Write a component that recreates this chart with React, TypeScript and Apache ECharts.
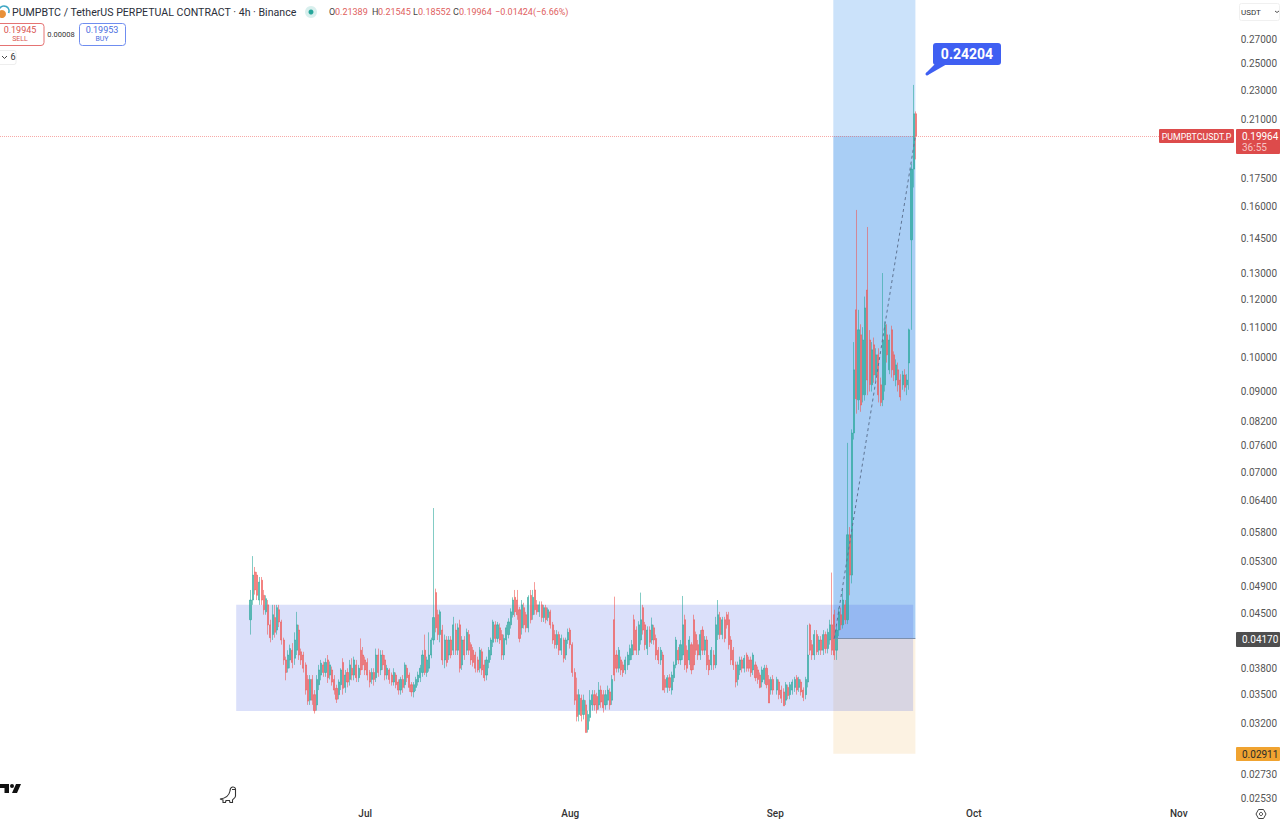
import React, { useEffect, useRef } from "react";
import * as echarts from "echarts";

// All candle rows are [open, close, low, high] in units of 0.0001 USDT, 8h apart.
const candlesJun = [
[442,470,422,485],[470,508,463,539],[513,485,478,521],[508,477,470,513],[470,497,463,505],[500,470,463,505],[477,456,449,485],[453,472,449,477],[463,435,422,470],[435,418,412,442],
[422,449,415,463],[445,425,418,463],[428,459,422,463],[456,439,432,463],[439,415,409,442],[415,390,384,418],[390,375,366,394],[380,396,375,402],[390,404,380,409],[402,387,380,411],
[392,415,384,425],[402,435,396,453],[428,396,390,435],[400,390,384,404],[396,380,375,400],[384,355,350,387],[367,343,339,372],[344,367,339,372],[367,344,339,372],[350,333,330,355],
[339,367,333,372],[361,378,355,384],[372,386,366,390],[384,375,370,388],[375,387,370,392],[390,369,363,396],[372,384,367,388],[378,364,360,382],[367,355,350,372],[357,345,341,361],
[350,364,345,367],[361,378,355,380],[387,357,350,392],[358,372,352,378],[375,364,358,380],[367,384,360,390],[380,372,366,392],[372,390,366,394],[384,369,364,390],[369,380,364,384],
[402,378,372,417],[396,384,378,406],
];
const candlesJul = [
[390,378,372,394],[387,372,366,392],[375,364,358,378],[367,375,362,380],[375,367,360,380],[369,396,364,404],[396,375,370,404],[378,396,372,402],[396,384,378,402],[390,372,366,396],
[372,380,367,384],[378,367,362,380],[372,364,360,375],[364,375,360,380],[372,361,357,375],[364,355,350,367],[355,367,350,370],[367,358,352,372],[361,384,357,387],[380,369,364,384],
[372,358,353,375],[361,353,348,364],[353,361,347,364],[358,367,354,370],[364,372,360,376],[369,380,364,384],[375,396,370,402],[402,375,372,422],[375,390,370,394],[380,396,376,425],
[396,415,392,418],[415,445,409,626],[481,431,425,487],[449,422,415,456],[422,453,412,456],[428,390,384,435],[390,415,380,422],[415,387,382,420],[396,415,390,420],[415,396,392,420],
[402,435,396,446],[428,402,396,437],[402,431,396,437],[435,380,375,442],[384,415,378,420],[415,396,390,420],[402,425,396,430],[422,402,396,428],[409,390,384,412],[402,387,382,406],
[396,380,375,400],[390,378,375,394],[380,402,375,406],[400,378,372,404],[384,369,365,390],[372,390,366,394],[387,402,380,406],[396,415,390,418],[412,439,406,442],[435,417,412,440],
[417,435,412,439],[431,415,410,437],[422,396,390,428],[396,417,390,422],[415,431,409,435],[422,439,417,444],[435,453,430,458],[449,470,445,474],[474,453,446,485],[470,449,442,485],
[456,417,412,460],[431,463,422,470],[459,435,430,466],[449,431,425,453],[431,474,425,477],[477,442,437,485],[449,474,442,485],[485,456,449,497],[463,453,449,470],[453,463,446,468],
[463,445,439,468],[445,459,439,463],[459,442,437,463],[445,456,440,459],[453,435,430,456],[435,415,410,439],[422,409,404,428],[409,422,404,428],[422,402,396,426],[402,417,396,422],
[415,392,387,418],[396,415,390,418],[415,425,410,430],
];
const candlesAug = [
[428,409,404,431],[409,375,370,412],[375,344,339,380],[350,327,322,369],[329,350,322,356],[346,328,322,350],[329,344,324,350],[339,311,311,344],[314,329,311,333],[326,344,322,355],
[339,350,333,355],[350,339,333,355],[348,334,330,352],[339,355,334,364],[355,342,336,360],[350,336,331,355],[339,350,334,355],[344,355,339,360],[353,339,334,357],[344,367,339,372],
[442,372,365,475],[396,380,375,402],[380,402,375,406],[390,378,372,394],[384,375,370,388],[378,390,373,394],[384,396,378,400],[390,404,384,409],[396,409,390,415],[442,402,396,449],
[428,402,396,433],[402,435,396,440],[415,442,409,481],[459,428,422,463],[435,409,402,439],[404,428,396,433],[428,412,406,433],[415,435,410,445],[431,415,409,435],[417,396,390,422],
[402,390,385,406],[390,402,384,406],[396,355,355,400],[367,358,352,372],[358,369,352,372],[369,358,354,373],[355,372,350,376],[369,384,364,388],[384,415,380,419],[402,390,385,406],
[390,409,384,415],[396,435,390,476],[442,384,378,449],[402,380,375,408],[390,415,384,420],[409,378,373,412],[442,384,378,449],[422,402,396,426],[409,396,390,415],[396,422,390,428],
[428,402,396,433],[402,415,396,420],[415,384,378,420],[390,378,372,396],[384,402,378,406],[396,384,378,402],[384,435,380,446],[422,449,415,470],[445,422,416,453],[422,442,416,446],
[442,417,412,446],[449,435,430,453],[442,409,403,453],[415,390,384,420],[402,384,378,406],[384,364,358,388],[367,384,360,388],[378,390,372,394],[390,380,375,394],[380,392,375,396],
[396,380,376,399],[390,380,376,394],[390,375,370,394],[378,396,372,399],[384,369,365,388],[378,367,362,382],[372,358,357,375],[364,378,358,382],[367,380,362,384],[380,361,357,384],
[367,341,341,372],[355,367,350,370],[367,355,350,372],
];
const candlesSep = [
[355,367,350,370],[364,350,345,367],[355,346,341,360],[353,338,338,357],[344,361,339,364],[358,349,345,361],[350,361,345,364],[355,364,350,367],[358,367,353,370],[369,355,350,372],
[358,367,353,370],[364,353,349,367],[355,347,343,358],[350,367,345,370],[364,396,358,435],[435,402,396,437],[409,396,390,415],[396,422,390,428],[422,400,396,428],[402,415,396,420],
[415,402,396,420],[402,422,396,428],[422,404,398,426],[404,425,398,430],[415,435,409,442],[435,402,396,512],[449,396,390,456],[402,428,390,433],[428,453,420,459],[449,435,428,459],
[435,470,430,488],[463,442,436,470],[442,576,436,767],[576,508,477,590],[508,791,495,800],[791,963,775,1050],[1161,880,840,1585],[877,1091,850,1161],[1074,863,845,1110],[891,1057,870,1100],
[891,1168,875,1210],[1235,933,890,1503],[1057,920,900,1090],[919,1025,900,1050],[1041,948,925,1065],[948,1009,930,1030],[1009,891,870,1030],[919,870,860,940],[877,1057,860,1302],[919,1108,900,1120],
[1074,1009,985,1110],[963,1057,950,1075],[1091,963,940,1105],[1009,948,930,1020],[933,978,915,995],[963,919,900,985],[933,885,875,950],[919,948,905,960],[948,912,900,965],[919,933,890,950],
[984,1091,905,1095],[1444,1800,1091,1830],[1800,2138.9,1700,2340],[2138.9,1996.4,1855.2,2154.5],
];

const priceTicks = [0.27,0.25,0.23,0.21,0.175,0.16,0.145,0.13,0.12,0.11,0.1,0.09,0.082,0.076,0.07,0.064,0.058,0.053,0.049,0.045,0.038,0.035,0.032,0.0273,0.0253];
const monthNames = ["Jul", "Aug", "Sep", "Oct", "Nov"];
const monthStarts = [Date.UTC(2025,6,1),Date.UTC(2025,7,1),Date.UTC(2025,8,1),Date.UTC(2025,9,1),Date.UTC(2025,10,1)];
const segmentStarts = [Date.UTC(2025,5,13,16),Date.UTC(2025,6,1),Date.UTC(2025,7,1),Date.UTC(2025,8,1,6)];

const currentPrice = 0.19964;
const entryPrice = 0.0417;
const stopPrice = 0.02911;
const rangeTop = 0.0463;
const rangeBottom = 0.03325;
const priceMax = 0.3049;
const priceMin = 0.02497;
const timeMin = Date.UTC(2025,4,6,19);
const timeMax = Date.UTC(2025,10,9,7);
const rangeStart = Date.UTC(2025,5,11,12);
const rangeEnd = Date.UTC(2025,8,21,20);
const toolStart = Date.UTC(2025,8,9,18,30);
const toolEnd = Date.UTC(2025,8,22,4,20);
const pathStart = Date.UTC(2025,8,9,22);

const HOUR = 3600000;
const candleData: any[] = [];
[candlesJun, candlesJul, candlesAug, candlesSep].forEach((rows, s) => {
  rows.forEach((r, i) => {
    candleData.push([segmentStarts[s] + i * 8 * HOUR, r[0] / 10000, r[1] / 10000, r[2] / 10000, r[3] / 10000]);
  });
});

echarts.graphic.registerShape("tvlogo", echarts.graphic.extendPath("M0 0H9V9H4.5V4H0Z M14 2A2 2 0 1 1 10 2A2 2 0 1 1 14 2Z M16 0H21L17 9H12Z", {}));
echarts.graphic.registerShape("dino", echarts.graphic.extendPath("M10 5C10 0 15 0 15.5 3L15.5 10C15.5 12 13 13 12.5 14L12.5 16.5L10 16.5L9.5 14.5L6 14.5L5.5 16.5L3 16.5L3 14L0 13C5 12.5 9 10 10 5Z M12 3.5L15.5 3.5", {}));

const F = "Roboto, sans-serif";
const txt = (text: string, x: number, y: number, size: number, fill: string, extra: any = {}) => ({
  type: "text", silent: true, z: 20,
  style: { text, x, y, fill, font: `${extra.weight || "normal"} ${size}px ${F}`, textAlign: extra.align || "left", textVerticalAlign: "middle" },
});
const box = (x: number, y: number, w: number, h: number, fill: string, stroke?: string, r = 0) => ({
  type: "rect", silent: true, z: 19,
  shape: { x, y, width: w, height: h, r },
  style: { fill, stroke: stroke || "none", lineWidth: stroke ? 1 : 0 },
});

const RED = "#e06060";
const graphics: any[] = [
  // header
  { type: "circle", silent: true, z: 19, shape: { cx: 2, cy: 14, r: 4 }, style: { fill: "#e8913a" } },
  { type: "arc", silent: true, z: 19, shape: { cx: 4, cy: 11, r: 5, startAngle: -2.6, endAngle: 0.4 }, style: { stroke: "#3fa7c4", lineWidth: 1.6, fill: "none" } },
  txt("PUMPBTC / TetherUS PERPETUAL CONTRACT · 4h · Binance", 12, 12, 10.6, "#2a2e39"),
  { type: "circle", silent: true, z: 19, shape: { cx: 311, cy: 12, r: 6 }, style: { fill: "rgba(38,166,154,0.18)" } },
  { type: "circle", silent: true, z: 19, shape: { cx: 311, cy: 12, r: 2.5 }, style: { fill: "#26a69a" } },
  txt("O", 329, 12, 9, "#444"), txt("0.21389", 335, 12, 9, RED),
  txt("H", 372, 12, 9, "#444"), txt("0.21545", 378, 12, 9, RED),
  txt("L", 413, 12, 9, "#444"), txt("0.18552", 418, 12, 9, RED),
  txt("C", 453, 12, 9, "#444"), txt("0.19964", 459, 12, 9, RED),
  txt("−0.01424", 495, 12, 9, RED), txt("(−6.66%)", 533, 12, 9, RED),
  box(-4, 23.5, 48, 22, "#fff", "#e57373", 3),
  txt("0.19945", 20, 30, 9, "#d9534f", { align: "center" }), txt("SELL", 20, 39, 7, "#d9534f", { align: "center" }),
  txt("0.00008", 61, 34, 7.5, "#333", { align: "center" }),
  box(79.5, 23.5, 46, 22, "#fff", "#6f8df0", 3),
  txt("0.19953", 102, 30, 9, "#4a6ee0", { align: "center" }), txt("BUY", 102, 39, 7, "#4a6ee0", { align: "center" }),
  box(-4, 50.5, 20, 14, "#fff", "#eeeeee", 2),
  { type: "polyline", silent: true, z: 20, shape: { points: [[2, 56], [4.5, 58.5], [7, 56]] }, style: { stroke: "#444", lineWidth: 1, fill: "none" } },
  txt("6", 13, 57, 9, "#333", { align: "center" }),
  // target callout
  { type: "polygon", silent: true, z: 19, shape: { points: [[939, 60], [947, 64], [928, 75], [926, 73]] }, style: { fill: "#3f5ff2" } },
  { type: "circle", silent: true, z: 19, shape: { cx: 927, cy: 74, r: 1.5 }, style: { fill: "#3f5ff2" } },
  box(933, 43, 68, 22, "#3f5ff2", undefined, 3),
  txt("0.24204", 967, 54, 14, "#ffffff", { align: "center", weight: "bold" }),
  // price scale
  box(1239.5, 3.5, 40, 17, "#fff", "#f0f0f0", 2),
  txt("USDT", 1241, 12, 8, "#333"),
  { type: "polyline", silent: true, z: 20, shape: { points: [[1275, 11], [1277, 12.5], [1279, 11]] }, style: { stroke: "#555", lineWidth: 1, fill: "none" } },
  box(1159, 129, 75, 14, "#dd4b4b", undefined, 1),
  txt("PUMPBTCUSDT.P", 1196.5, 136.5, 8.8, "#ffffff", { align: "center" }),
  box(1236, 129, 44, 25, "#dd4b4b", undefined, 1),
  txt("0.19964", 1242, 136, 10, "#ffffff"),
  txt("36:55", 1242, 147, 10, "#f7c4c4"),
  box(1236, 632, 44, 15, "#4e4e4e", undefined, 1),
  txt("0.04170", 1242, 639.5, 10, "#ffffff"),
  box(1236, 747, 44, 14, "#f0a330", undefined, 1),
  txt("0.02911", 1242, 754, 10, "#2a2a2a"),
  // logos & settings
  { type: "tvlogo", silent: true, z: 20, x: 0, y: 784, style: { fill: "#111" } },
  { type: "dino", silent: true, z: 20, x: 220, y: 786, style: { fill: "none", stroke: "#333", lineWidth: 1.1 } },
  { type: "polygon", silent: true, z: 20, shape: { points: [[1256, 814], [1258.5, 809.5], [1263.5, 809.5], [1266, 814], [1263.5, 818.5], [1258.5, 818.5]] }, style: { fill: "none", stroke: "#444", lineWidth: 1 } },
  { type: "circle", silent: true, z: 20, shape: { cx: 1261, cy: 814, r: 1.6 }, style: { fill: "none", stroke: "#444", lineWidth: 1 } },
];

export default function App() {
  const ref = useRef<HTMLDivElement>(null);
  useEffect(() => {
    const chart = echarts.init(ref.current!, undefined, { renderer: "svg" });
    chart.setOption({
      animation: false,
      backgroundColor: "#ffffff",
      textStyle: { fontFamily: F },
      grid: { left: 0, top: 0, width: 1235, height: 803 },
      xAxis: {
        type: "value", min: timeMin, max: timeMax, scale: true,
        axisLine: { show: false }, axisTick: { show: false }, splitLine: { show: false },
        axisLabel: {
          customValues: monthStarts, margin: 5, fontSize: 10, fontWeight: 500, color: "#333", fontFamily: F,
          formatter: (v: number) => { const i = monthStarts.indexOf(v); return i >= 0 ? monthNames[i] : ""; },
        },
      },
      yAxis: {
        type: "log", logBase: Math.E, position: "right", min: priceMin, max: priceMax,
        axisLine: { show: false }, axisTick: { show: false }, splitLine: { show: false },
        axisLabel: {
          customValues: priceTicks, margin: 7, fontSize: 10, color: "#555", fontFamily: F,
          formatter: (v: number) => v.toFixed(5),
        },
      },
      series: [{
        type: "candlestick",
        data: candleData,
        barWidth: 1.6,
        clip: true,
        itemStyle: { color: "#26a69a", color0: "#ef5350", borderColor: "#26a69a", borderColor0: "#ef5350", borderWidth: 0.8, opacity: 0.72 },
        markArea: {
          silent: true,
          data: [
            [{ coord: [toolStart, currentPrice], itemStyle: { color: "#cbe2fa" } }, { coord: [toolEnd, priceMax] }],
            [{ coord: [toolStart, entryPrice], itemStyle: { color: "#a9cef5" } }, { coord: [toolEnd, currentPrice] }],
            [{ coord: [toolStart, stopPrice], itemStyle: { color: "#fcf2e2" } }, { coord: [toolEnd, entryPrice] }],
            [{ coord: [rangeStart, rangeBottom], itemStyle: { color: "rgba(65,90,230,0.19)" } }, { coord: [rangeEnd, rangeTop] }],
          ],
        },
        markLine: {
          silent: true, symbol: "none", label: { show: false },
          data: [
            [{ coord: [timeMin, currentPrice], lineStyle: { color: "rgba(239,83,80,0.5)", type: "dotted", width: 1 } }, { coord: [timeMax, currentPrice] }],
            [{ coord: [toolStart, entryPrice], lineStyle: { color: "#7b8fae", type: "solid", width: 1 } }, { coord: [toolEnd, entryPrice] }],
            [{ coord: [pathStart, entryPrice], lineStyle: { color: "#5f7594", type: [3, 3], width: 1 } }, { coord: [toolEnd, currentPrice] }],
          ],
        },
      }],
      graphic: { elements: graphics },
    });
    return () => chart.dispose();
  }, []);
  return <div ref={ref} style={{ position: "absolute", left: 0, top: 0, width: 1280, height: 821 }} />;
}
